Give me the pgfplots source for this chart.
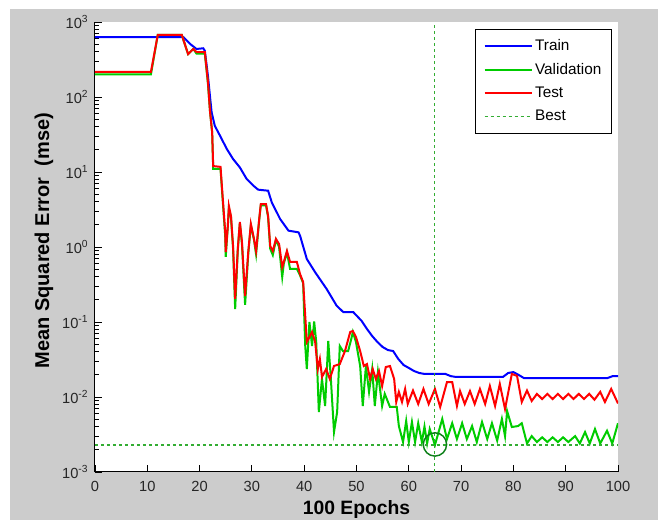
\documentclass[border=0pt]{standalone}
\usepackage{fontspec}
\setmainfont{Liberation Sans}
\usepackage{pgfplots}
\pgfplotsset{compat=1.18}
\definecolor{mblue}{rgb}{0,0,1}
\definecolor{mgreen}{rgb}{0,0.8,0}
\definecolor{mred}{rgb}{1,0,0}
\definecolor{bestc}{rgb}{0.2,0.68,0.2}
\definecolor{circc}{rgb}{0.05,0.5,0.1}
\definecolor{bgc}{gray}{0.8}
\begin{document}
\begin{tikzpicture}
\fill[white] (-71.25pt,-36pt) rectangle (422.25pt,354pt);
\fill[bgc] (-63.75pt,-36pt) rectangle (422.25pt,347.25pt);
\begin{axis}[
  scale only axis, width=392.25pt, height=337.5pt,
  xmin=0, xmax=100, ymode=log, ymin=1e-3, ymax=1e3,
  axis background/.style={fill=white},
  axis x line*=bottom, axis y line*=left,
  axis line style={line width=0.75pt, black, -},
  tick align=inside, tick style={black, line width=0.6pt},
  major tick length=5pt, minor tick length=3pt,
  xtick={0,10,20,30,40,50,60,70,80,90,100},
  xticklabels={0,10,20,30,40,50,60,70,80,90,100},
  ytick={1e-3,1e-2,1e-1,1,10,100,1000},
  yticklabels={10\textsuperscript{-3},10\textsuperscript{-2},10\textsuperscript{-1},10\textsuperscript{0},10\textsuperscript{1},10\textsuperscript{2},10\textsuperscript{3}},
  minor ytick={2e-3,3e-3,4e-3,5e-3,6e-3,7e-3,8e-3,9e-3,
               2e-2,3e-2,4e-2,5e-2,6e-2,7e-2,8e-2,9e-2,
               0.2,0.3,0.4,0.5,0.6,0.7,0.8,0.9,
               2,3,4,5,6,7,8,9,
               20,30,40,50,60,70,80,90,
               200,300,400,500,600,700,800,900},
  tick label style={font=\fontsize{11}{13}\selectfont, text=black!85},
  xticklabel style={yshift=-3.5pt},
  yticklabel style={xshift=-1.5pt},
  xlabel={100 Epochs},
  ylabel={Mean Squared Error\ \ (mse)},
  xlabel style={font=\fontsize{14.5}{17}\selectfont\bfseries, at={(axis description cs:0.5,-0.084)}, anchor=center},
  ylabel style={font=\fontsize{15}{18}\selectfont\bfseries, at={(axis description cs:-0.0975,0.514)}, anchor=center},
  legend style={at={(axis description cs:0.988,0.984)}, anchor=north east,
    draw=black, line width=0.6pt, fill=white,
    font=\fontsize{11.5}{13}\selectfont,
    inner xsep=6pt, inner ysep=5.7pt, row sep=3.9pt,
    nodes={inner xsep=1.5pt, inner ysep=2pt, text depth=0.15em},
    cells={anchor=west}},
  legend image code/.code={\draw[#1] (0pt,0pt) -- (35.7pt,0pt);},
]
% Train
\addplot[mblue, line width=1.5pt] coordinates {
(0,630) (16.9,630) (18.2,509) (19.4,437) (20.7,446) (21,414) (21.6,190) (22,100)
(22.3,62.5) (22.9,41.4) (23.9,30.5) (25.2,20.3) (26.4,14.9) (27.7,11.5) (29.0,8.07)
(30.3,6.56) (31.2,5.81) (33.1,5.63) (33.8,3.94) (35.4,2.36) (37.0,1.65) (38.9,1.57)
(39.2,1.42) (40.5,0.692) (42.1,0.46) (44.3,0.275) (46.2,0.165) (47.5,0.135) (49.4,0.135)
(50.3,0.116) (51,0.103) (52,0.0807) (53,0.065) (54,0.0541) (55,0.0464) (56,0.0423)
(57,0.041) (58,0.0321) (59,0.0267) (60,0.0244) (61,0.0222) (62,0.0209) (63,0.0203)
(67,0.0203) (68,0.019) (69,0.0185) (78,0.0185) (79,0.0209) (80,0.0215) (81,0.0197)
(82,0.0179) (98,0.0179) (99,0.019) (100,0.019)
};
\addlegendentry{Train}
% Validation
\addplot[mgreen, line width=1.5pt] coordinates {
(0,201) (10.7,201) (12,671) (16.6,671) (17.8,374) (18.8,437) (19.4,380) (21,380)
(21.6,150) (22,63) (22.4,34) (22.6,11) (24,11) (24.3,5.5) (24.9,1.4) (25.0,0.741)
(25.4,1.905) (25.6,3.3) (26.0,2.5) (26.4,0.95) (26.8,0.149) (27.3,0.9) (27.7,2.1)
(28.1,1.1) (28.7,0.17) (29.3,0.8) (29.8,1.95) (30.4,1.25) (30.8,0.8) (31.4,2.3)
(31.7,3.6) (32.7,3.6) (33.1,2.5) (33.5,0.95) (34.0,0.782) (34.6,1.25) (35.2,1.0)
(35.8,0.398) (36.1,0.6) (36.7,0.85) (37.3,0.509) (38.6,0.509) (39.2,0.42) (39.8,0.33)
(40.2,0.0479) (40.5,0.0236) (41.0,0.1) (41.5,0.0479) (41.9,0.102) (42.3,0.0541)
(42.8,0.00631) (43.4,0.0174) (44.0,0.00759) (44.6,0.0558) (45.1,0.0174) (45.7,0.00341)
(46.3,0.00631) (46.8,0.0479) (47.4,0.041) (48.4,0.041) (49.0,0.0593) (49.3,0.0736)
(49.9,0.0541) (50.7,0.0259) (51.2,0.00759) (51.8,0.0259) (52.4,0.0117) (53.0,0.0236)
(53.5,0.00759) (54.1,0.0215) (54.9,0.00759) (55.4,0.011) (56.4,0.00736) (57.7,0.00736)
(58.1,0.0041) (58.9,0.00251) (59.5,0.00479) (60.0,0.00251) (60.6,0.00464) (61.2,0.00251)
(61.8,0.00447) (62.5,0.00251) (63.0,0.00404) (63.5,0.0024) (64.0,0.00374) (65.0,0.00229)
(66.4,0.0051) (67.3,0.00275) (68.3,0.00447) (69.2,0.00275) (70.2,0.00447) (71.1,0.00275)
(72.1,0.0041) (73.0,0.00251) (74.0,0.00464) (75.0,0.00275) (75.9,0.00447) (76.9,0.00262)
(77.8,0.0051) (78.4,0.00301) (78.8,0.0065) (79.7,0.00398) (80.9,0.0041) (81.6,0.00447)
(82.6,0.0024) (83.5,0.00301) (84.5,0.00251) (85.5,0.0029) (86.5,0.00251) (87.5,0.0029)
(88.5,0.00251) (89.5,0.0029) (90.5,0.00251) (91.8,0.00301) (92.7,0.0024) (93.7,0.00341)
(94.6,0.0024) (95.6,0.00374) (96.6,0.0024) (97.9,0.00355) (98.9,0.0024) (100,0.00447)
};
\addlegendentry{Validation}
% Test
\addplot[mred, line width=1.5pt] coordinates {
(0,217) (10.7,217) (12,671) (16.6,671) (17.8,374) (18.8,437) (19.4,398) (21,398)
(21.6,158) (22,63) (22.4,34) (22.6,12) (24.0,11.7) (24.3,5.93) (24.9,1.585) (25.0,0.857)
(25.4,1.905) (25.6,3.52) (26.0,2.59) (26.4,1.03) (26.8,0.203) (27.3,0.94) (27.7,2.15)
(28.1,1.167) (28.7,0.222) (29.3,0.857) (29.8,2.03) (30.4,1.28) (30.8,0.885) (31.4,2.36)
(31.7,3.74) (32.7,3.74) (33.1,2.59) (33.5,1.03) (34.0,0.885) (34.6,1.28) (35.2,1.096)
(35.8,0.541) (36.1,0.631) (36.7,0.885) (37.3,0.631) (38.6,0.631) (39.2,0.437) (39.8,0.341)
(40.2,0.120) (40.5,0.0541) (41.1,0.065) (41.5,0.0736) (42.1,0.0541) (42.6,0.0236)
(43.0,0.0321) (43.4,0.0185) (44.2,0.0236) (44.9,0.0174) (45.7,0.0259) (46.8,0.0275)
(47.8,0.041) (48.8,0.0736) (49.3,0.0759) (49.9,0.063) (50.7,0.041) (51.4,0.0259)
(52.0,0.0275) (52.6,0.0174) (53.1,0.0236) (53.7,0.0174) (54.3,0.0222) (54.9,0.014)
(55.6,0.0251) (56.4,0.0259) (57.2,0.0174) (57.6,0.00858) (58.1,0.0117) (58.7,0.00858)
(59.3,0.0128) (59.8,0.00807) (60.8,0.0122) (61.8,0.00807) (62.8,0.0128) (63.8,0.00807)
(65,0.0128) (66,0.00736) (67.3,0.0158) (68.3,0.0158) (69.2,0.0076) (69.8,0.012)
(70.7,0.00807) (71.7,0.012) (72.6,0.00807) (73.6,0.0128) (74.6,0.00807) (75.5,0.014)
(76.5,0.0076) (77.4,0.0149) (78.4,0.00692) (79.7,0.0203) (80.7,0.0191) (81.6,0.00858)
(82.6,0.0122) (83.5,0.00885) (84.5,0.011) (85.5,0.0094) (86.5,0.011) (87.5,0.0094)
(88.5,0.011) (89.5,0.0094) (90.5,0.011) (91.5,0.0094) (92.5,0.011) (93.5,0.0094)
(94.5,0.011) (95.5,0.0092) (96.6,0.0117) (97.5,0.00858) (98.7,0.0128) (100,0.0082)
};
\addlegendentry{Test}
% Best
\addplot[bestc, line width=0.8pt, dash pattern=on 2.5pt off 2pt] coordinates {(0,0.00229) (100,0.00229)};
\addlegendentry{Best}
\addplot[bestc, line width=0.8pt, dash pattern=on 2.5pt off 2pt, forget plot] coordinates {(65,1e-3) (65,1e3)};
\addplot[only marks, mark=o, mark size=8.75pt, mark options={circc, line width=1.1pt}, forget plot] coordinates {(65,0.00233)};
\end{axis}
\pgfresetboundingbox
\path[use as bounding box] (-71.25pt,-36pt) rectangle (422.25pt,354pt);
\end{tikzpicture}
\end{document}
